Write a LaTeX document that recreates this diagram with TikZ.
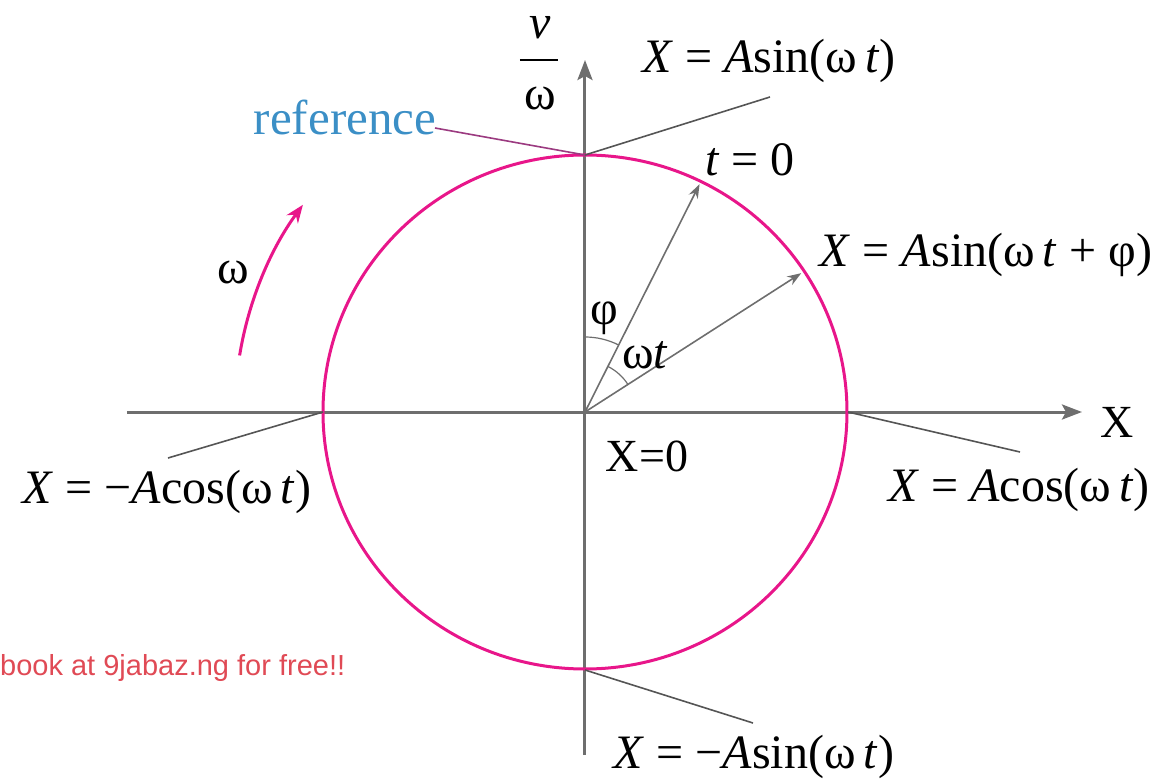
\documentclass[tikz,border=0pt]{standalone}
\usepackage{fontspec}
\setmainfont{Liberation Serif}
\newfontfamily\wmfont{Liberation Sans}
\usetikzlibrary{arrows.meta}
\newcommand{\mi}[1]{\textit{#1}}
\definecolor{axisgray}{HTML}{6E6E6E}
\definecolor{leadgray}{HTML}{555555}
\definecolor{magentac}{HTML}{E8168A}
\definecolor{refpurple}{HTML}{9B3A80}
\definecolor{refblue}{HTML}{3B8FC6}
\definecolor{wmred}{HTML}{E04A55}
\begin{document}
\begin{tikzpicture}[x=1pt,y=1pt,
  axisline/.style={draw=axisgray, line width=3pt},
  leader/.style={draw=leadgray, line width=1.6pt},
  vec/.style={draw=axisgray, line width=1.6pt, -{Stealth[length=14pt,width=10pt]}},
  anglearc/.style={draw=axisgray, line width=1.2pt},
  lab/.style={font=\fontsize{48}{54}\selectfont, inner sep=0pt},
  txt/.style={font=\fontsize{46}{52}\selectfont, inner sep=0pt}]
\useasboundingbox (-585,-367) rectangle (574,412);
% axes
\coordinate (O) at (0,0);
\coordinate (ybot) at (0,-343);
\coordinate (ytop) at (0,352);
\coordinate (xleft) at (-458,0);
\coordinate (xright) at (497,0);
\draw[axisline, -{Stealth[length=20pt,width=15pt,inset=4pt]}] (ybot) -- (ytop);
\draw[axisline, -{Stealth[length=20pt,width=15pt,inset=4pt]}] (xleft) -- (xright);
% circle
\draw[draw=magentac, line width=3pt] (O) ellipse [x radius=262, y radius=257];
% circle points
\coordinate (T) at (0,257);
\coordinate (L) at (-262,0);
\coordinate (R) at (263,0);
\coordinate (B) at (0,-258);
\coordinate (Tend) at (185,315);
\coordinate (Rfend) at (-150,284);
\coordinate (Lend) at (-417,-46);
\coordinate (Rend) at (435,-40);
\coordinate (Bend) at (168,-311);
\draw[leader] (T) -- (Tend);
\draw[draw=refpurple, line width=1.6pt] (T) -- (Rfend);
\draw[leader] (L) -- (Lend);
\draw[leader] (R) -- (Rend);
\draw[leader] (B) -- (Bend);
% vectors
\coordinate (V1) at (63.3:255);
\coordinate (V2) at (32.7:257);
\draw[vec] (O) -- (V1);
\draw[vec] (O) -- (V2);
\draw[anglearc] (90:75) arc[start angle=90, end angle=63.3, radius=75];
\draw[anglearc] (63.3:51) arc[start angle=63.3, end angle=32.7, radius=51];
% omega arrow
\draw[draw=magentac, line width=3pt, -{Stealth[length=18pt,width=14pt]}] (170.7:350) arc[start angle=170.7, end angle=143.7, radius=350];
% v / omega fraction
\node[lab] (vnum) at (-45,384) {\mi{v}};
\node[lab] (wden) at (-45,314) {ω};
\draw[draw=black, line width=2pt] (-65,352) -- (-27,352);
% labels
\node[lab] (l1) at (184,351) {\mi{X} = \mi{A}sin(ω\,\mi{t})};
\node[lab] (l2) at (165,252) {\mi{t} = 0};
\node[lab] (l3) at (401,157) {\mi{X} = \mi{A}sin(ω\,\mi{t} + φ)};
\node[lab] (l4) at (434,-78) {\mi{X} = \mi{A}cos(ω\,\mi{t})};
\node[lab] (l5) at (-418,-80) {\mi{X} = −\mi{A}cos(ω\,\mi{t})};
\node[lab] (l6) at (169,-345) {\mi{X} = −\mi{A}sin(ω\,\mi{t})};
\node[txt] (x0) at (62,-44) {X=0};
\node[txt] (xl) at (532,-10) {X};
\node[txt, font=\fontsize{49}{54}\selectfont, text=refblue] (ref) at (-240,295) {reference};
\node[lab] (om) at (-352,140) {ω};
\node[lab] (ph) at (19,94) {φ};
\node[lab] (wt) at (60,57) {ω\mi{t}};
\node[anchor=west, inner sep=0pt, text=wmred, font=\wmfont\fontsize{29}{33}\selectfont] (wm) at (-585,-256) {book at 9jabaz.ng for free!!};
\end{tikzpicture}
\end{document}
